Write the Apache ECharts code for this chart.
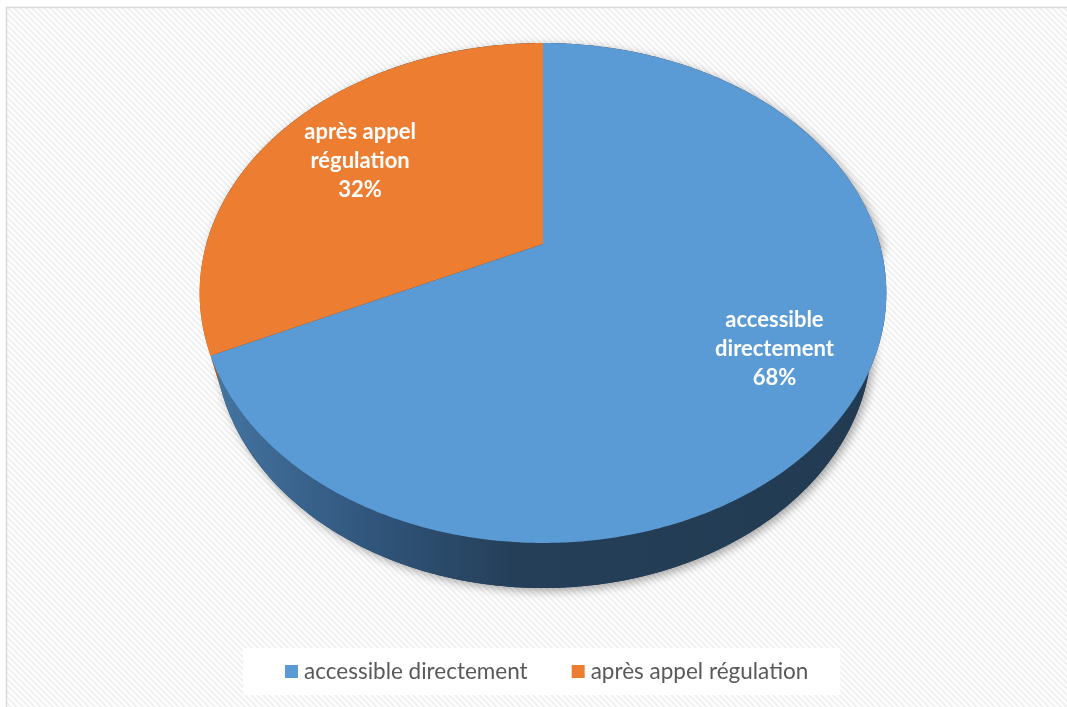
<!DOCTYPE html>
<html>
<head>
<meta charset="utf-8">
<style>
  html, body { margin: 0; padding: 0; background: #ffffff; }
  #chart { width: 1067px; height: 707px; }
</style>
<script src="https://cdn.jsdelivr.net/npm/echarts@6/dist/echarts.min.js"></script>
</head>
<body>
<div id="chart"></div>
<script>
// Share of accesses, in percent
const categories = ['accessible directement', 'après appel régulation'];
const values = [68, 32];

// Styling
const topColors = ['#5b9bd5', '#ed7d31'];
const sideStops = [
  [
    { offset: 0, color: '#4475a2' },
    { offset: 0.25, color: '#30547a' },
    { offset: 0.45, color: '#253f58' },
    { offset: 1, color: '#223b53' }
  ],
  [
    { offset: 0, color: '#b45a1e' },
    { offset: 1, color: '#8a4415' }
  ]
];
const labelRadius = [0.75, 0.69];

// Camera for the tilted disc: vertex on screen, focal scale, distance, tilt, thickness
const CX = 543, CY = 244, K = 1203, D = 3.573;
const TILT = 45.55 * Math.PI / 180;
const S = Math.sin(TILT), C = Math.cos(TILT);
const DEPTH = 0.217;

function project(X, Y, Z) {
  const yp = Z * S + Y * C;
  const zp = Z * C - Y * S + D;
  return [CX + K * X / zp, CY - K * yp / zp];
}
function rim(theta, Y) {
  return project(Math.sin(theta), Y, Math.cos(theta));
}
function arc(from, to, Y) {
  const pts = [];
  const n = Math.max(2, Math.ceil(Math.abs(to - from) / (0.5 * Math.PI / 180)));
  for (let i = 0; i <= n; i++) {
    pts.push(rim(from + (to - from) * i / n, Y));
  }
  return pts;
}

function stripePattern() {
  const c = document.createElement('canvas');
  c.width = 6; c.height = 6;
  const g = c.getContext('2d');
  g.fillStyle = '#ffffff';
  g.fillRect(0, 0, 6, 6);
  g.strokeStyle = '#f0f0f0';
  g.lineWidth = 2;
  g.beginPath();
  g.moveTo(-1, -1); g.lineTo(7, 7);
  g.moveTo(-1, 5); g.lineTo(1, 7);
  g.moveTo(5, -1); g.lineTo(7, 1);
  g.stroke();
  return c;
}

function renderSlice(idx) {
  return function (params, api) {
    const total = values.reduce((a, b) => a + b, 0);
    let before = 0;
    for (let j = 0; j < idx; j++) before += values[j];
    const v = api.value(0);
    const a0 = 2 * Math.PI * before / total;
    const a1 = 2 * Math.PI * (before + v) / total;
    const children = [];

    if (idx === 0) {
      // soft drop shadow under the whole disc
      const hull = arc(-Math.PI / 2, Math.PI / 2, 0).concat(arc(Math.PI / 2, 1.5 * Math.PI, -DEPTH));
      children.push({
        type: 'polygon', z2: 0,
        shape: { points: hull },
        style: {
          fill: '#223b53',
          shadowBlur: 10, shadowColor: 'rgba(0,0,0,0.35)',
          shadowOffsetX: 3, shadowOffsetY: 3
        }
      });
    }

    // front wall, only the half facing the viewer
    const lo = Math.max(a0, Math.PI / 2), hi = Math.min(a1, 1.5 * Math.PI);
    if (hi > lo) {
      const band = arc(lo, hi, 0).concat(arc(hi, lo, -DEPTH));
      children.push({
        type: 'polygon', z2: 5,
        shape: { points: band },
        style: {
          fill: new echarts.graphic.LinearGradient(210, 0, 886, 0, sideStops[idx], true)
        }
      });
    }

    // top face
    const face = [project(0, 0, 0)].concat(arc(a0, a1, 0));
    children.push({
      type: 'polygon', z2: 10,
      shape: { points: face },
      style: { fill: api.visual('color') }
    });

    // label: name split on its last space, then the percentage
    const mid = (a0 + a1) / 2;
    const r = labelRadius[idx];
    const p = project(r * Math.sin(mid), 0, r * Math.cos(mid));
    const name = categories[idx];
    const cut = name.lastIndexOf(' ');
    const text = name.slice(0, cut) + '\n' + name.slice(cut + 1) + '\n' + Math.round(v / total * 100) + '%';
    children.push({
      type: 'text', z2: 20,
      x: p[0], y: p[1],
      style: {
        text: text,
        fill: '#ffffff',
        font: 'bold 22px Lato',
        lineHeight: 29,
        align: 'center',
        verticalAlign: 'middle'
      }
    });

    return { type: 'group', children: children };
  };
}

const chart = echarts.init(document.getElementById('chart'), null, { renderer: 'canvas' });
chart.setOption({
  backgroundColor: '#ffffff',
  animation: false,
  graphic: [{
    type: 'rect',
    z: -10,
    silent: true,
    shape: { x: 6.5, y: 7.5, width: 1080, height: 720 },
    style: {
      fill: { image: stripePattern(), repeat: 'repeat' },
      stroke: '#d9d9d9',
      lineWidth: 1.5
    }
  }],
  legend: {
    data: categories,
    left: 243,
    top: 648,
    orient: 'horizontal',
    icon: 'rect',
    itemWidth: 13,
    itemHeight: 13,
    itemGap: 44,
    backgroundColor: '#ffffff',
    padding: [12, 32, 12, 42],
    selectedMode: false,
    textStyle: { fontFamily: 'Lato', fontSize: 22.5, color: '#595959', padding: [0, 0, 0, 1] }
  },
  series: categories.map((name, i) => ({
    type: 'custom',
    name: name,
    coordinateSystem: 'none',
    silent: true,
    itemStyle: { color: topColors[i] },
    renderItem: renderSlice(i),
    data: [[values[i]]]
  }))
});
</script>
</body>
</html>
